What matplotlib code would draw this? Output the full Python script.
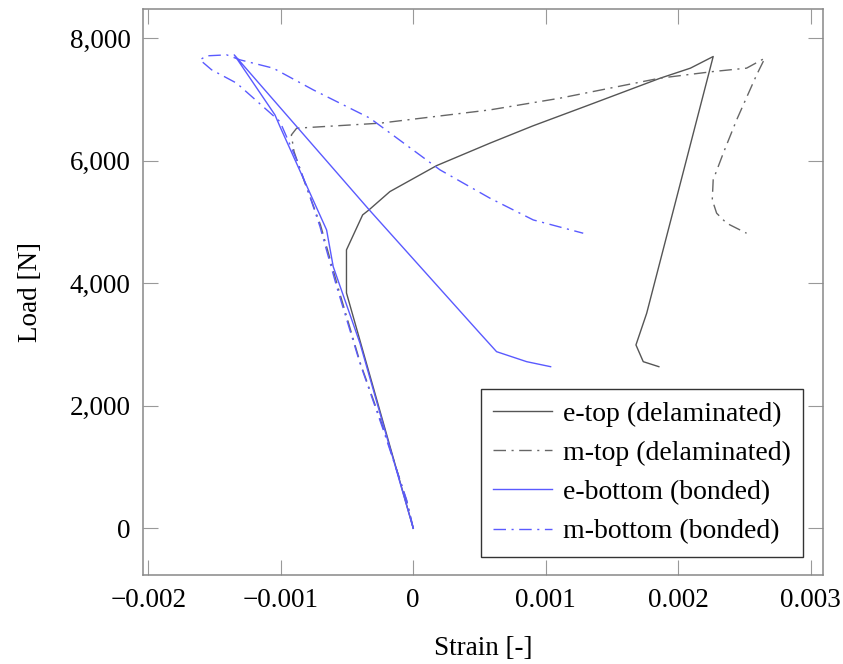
import matplotlib
matplotlib.use("Agg")
import matplotlib.pyplot as plt
from matplotlib.ticker import FixedLocator, FuncFormatter


# strain [-] and load [N]
e_top_strain = [0.0, -0.000504, -0.000504, -0.000382, -0.000334, -0.000176, 0.000177,
                0.000579, 0.000903, 0.001309, 0.001865, 0.002092, 0.002264,
                0.001762, 0.001681, 0.001736, 0.001854]
e_top_load = [0, 3842, 4544, 5115, 5197, 5496, 5920,
              6286, 6568, 6895, 7347, 7510, 7700,
              3510, 2993, 2720, 2638]

m_top_strain = [0.0, -0.00005, -0.00022, -0.0004, -0.00057, -0.0007, -0.00082, -0.0009,
                -0.00092, -0.00088, -0.000251, 0.000579, 0.001107, 0.001862, 0.002264,
                0.002516, 0.002654, 0.002592, 0.002441, 0.00234, 0.002264, 0.002257,
                0.00229, 0.002365, 0.002516]
m_top_load = [0, 450, 1600, 2700, 3950, 4950, 5650, 6150,
              6420, 6530, 6612, 6829, 7020, 7347, 7455,
              7510, 7673, 7401, 6666, 6122, 5687, 5360,
              5143, 4980, 4816]

e_bot_strain = [0.0, -0.000251, -0.000402, -0.000604, -0.000654, -0.001006, -0.001044,
                -0.001351, -0.000332, 0.000503, 0.000629, 0.000856, 0.001037]
e_bot_load = [0, 1877, 3020, 4271, 4870, 6557, 6748,
              7727, 5197, 3184, 2883, 2720, 2638]

m_bot_strain = [0.0, -0.0000498, -0.000226, -0.000402, -0.000578, -0.000704, -0.000805,
                -0.00088, -0.001006, -0.001333, -0.001522, -0.00161, -0.00156, -0.001408,
                -0.001308, -0.001057, -0.000755, -0.000327, 0.000202, 0.000579, 0.000906,
                0.001283]
m_bot_load = [0, 462, 1605, 2694, 3945, 4924, 5577,
              6013, 6638, 7265, 7483, 7646, 7711, 7727,
              7646, 7510, 7156, 6694, 5850, 5388, 5033,
              4816]

x_ticks = [-0.002, -0.001, 0, 0.001, 0.002, 0.003]
y_ticks = [0, 2000, 4000, 6000, 8000]

plt.rcParams["font.family"] = ["Liberation Serif", "DejaVu Serif"]

fig = plt.figure(figsize=(8.43, 6.64), dpi=100)
ax = fig.add_axes([0.1696, 0.134, 0.8067, 0.8524])

dashdot = (0, (9, 4, 1.5, 4))
ax.plot(e_top_strain, e_top_load, color="#555555", lw=1.0, label="e-top (delaminated)")
ax.plot(m_top_strain, m_top_load, color="#666666", lw=1.0, linestyle=dashdot,
        label="m-top (delaminated)")
ax.plot(e_bot_strain, e_bot_load, color="#5a5aff", lw=1.0, label="e-bottom (bonded)")
ax.plot(m_bot_strain, m_bot_load, color="#5a5aff", lw=1.0, linestyle=dashdot,
        label="m-bottom (bonded)")

ax.set_xlim(-0.00204, 0.003093)
ax.set_ylim(-762, 8475)


def fmt_x(v, pos):
    if abs(v) < 1e-12:
        return "0"
    return ("%.3f" % v).replace("-", "\u2212")


def fmt_y(v, pos):
    return "{:,}".format(int(round(v)))


ax.xaxis.set_major_locator(FixedLocator(x_ticks))
ax.yaxis.set_major_locator(FixedLocator(y_ticks))
ax.xaxis.set_major_formatter(FuncFormatter(fmt_x))
ax.yaxis.set_major_formatter(FuncFormatter(fmt_y))

ax.tick_params(direction="in", length=10.5, width=0.8, color="#999999",
               top=True, right=True, labelsize=19.5, pad=9)
for s in ax.spines.values():
    s.set_color("#888888")
    s.set_linewidth(1.1)

ax.set_xlabel("Strain [-]", fontsize=19.5, labelpad=17)
ax.set_ylabel("Load [N]", fontsize=19.5, labelpad=19)

leg = ax.legend(loc="lower right", bbox_to_anchor=(0.9706, 0.0318), fontsize=20,
                frameon=True, fancybox=False, edgecolor="#333333", framealpha=1,
                handlelength=2.1, handletextpad=0.4, labelspacing=0.5,
                borderpad=0.45, borderaxespad=0)
leg.get_frame().set_linewidth(1.0)

fig.savefig("out.png", dpi=100)
